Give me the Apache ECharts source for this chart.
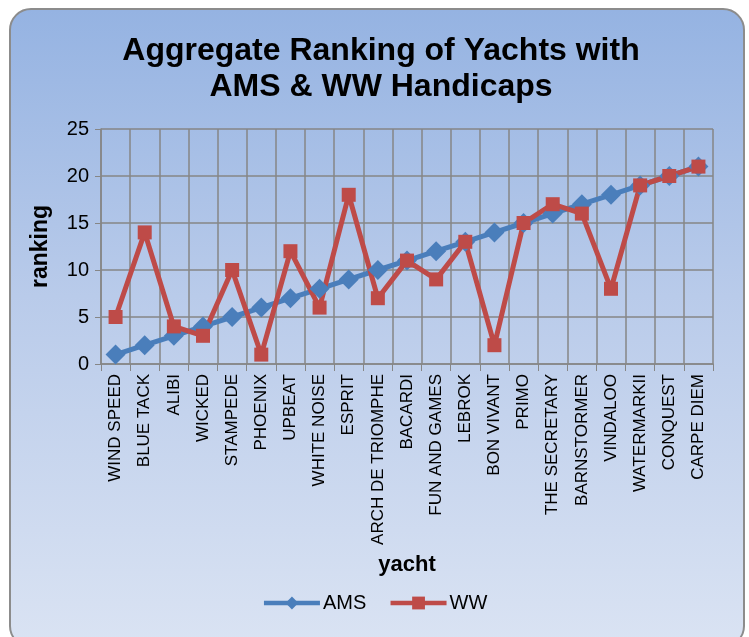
<!DOCTYPE html>
<html>
<head>
<meta charset="utf-8">
<script src="https://cdn.jsdelivr.net/npm/echarts@6/dist/echarts.min.js"></script>
<style>
  html, body { margin: 0; padding: 0; background: #ffffff; }
  #frame {
    position: absolute; left: 9px; top: 8px; width: 736px; height: 640px;
    box-sizing: border-box; border: 2px solid #8c8c8c; border-radius: 22px;
    background: linear-gradient(to bottom, #95b3e2 0%, #b9cbea 45%, #dae3f3 100%);
  }
  #chart { position: absolute; left: 0; top: 0; width: 749px; height: 637px; }
</style>
</head>
<body>
<div id="frame"></div>
<div id="chart"></div>
<script>
const yachts = [
  "WIND SPEED", "BLUE TACK", "ALIBI", "WICKED", "STAMPEDE", "PHOENIX", "UPBEAT",
  "WHITE NOISE", "ESPRIT", "ARCH DE TRIOMPHE", "BACARDI", "FUN AND GAMES", "LEBROK",
  "BON VIVANT", "PRIMO", "THE SECRETARY", "BARNSTORMER", "VINDALOO", "WATERMARKII",
  "CONQUEST", "CARPE DIEM",
];
const amsRanking = [1, 2, 3, 4, 5, 6, 7, 8, 9, 10, 11, 12, 13, 14, 15, 16, 17, 18, 19, 20, 21];
const wwRanking = [5, 14, 4, 3, 10, 1, 12, 6, 18, 7, 11, 9, 13, 2, 15, 17, 16, 8, 19, 20, 21];

const gridColor = "#868686";
const font = "Liberation Sans, Arial, sans-serif";

const chart = echarts.init(document.querySelector("#chart"));
chart.setOption({
  animation: false,
  textStyle: { fontFamily: font },
  title: {
    text: "Aggregate Ranking of Yachts with\nAMS & WW Handicaps",
    left: 376,
    textAlign: "center",
    top: 28,
    textStyle: { fontSize: 32, fontWeight: "bold", color: "#000", lineHeight: 36, fontFamily: font },
  },
  legend: {
    top: 588,
    left: "center",
    itemWidth: 56,
    itemHeight: 16,
    itemGap: 22,
    lineStyle: { width: 4.5 },
    textStyle: { fontSize: 20, color: "#000", fontFamily: font, padding: [0, 0, 0, -2] },
    data: ["AMS", "WW"],
  },
  grid: { left: 101, right: 36, top: 129, bottom: 273 },
  xAxis: {
    type: "category",
    data: yachts,
    name: "yacht",
    nameLocation: "middle",
    nameGap: 190,
    nameTextStyle: { fontSize: 22, fontWeight: "bold", color: "#000" },
    axisLine: { lineStyle: { color: gridColor, width: 1.5 } },
    axisTick: { show: true, length: 7, lineStyle: { color: gridColor } },
    axisLabel: { rotate: 90, fontSize: 17, color: "#000", margin: 10, interval: 0 },
    splitLine: { show: true, lineStyle: { color: gridColor, width: 1.5 } },
  },
  yAxis: {
    type: "value",
    min: 0,
    max: 25,
    interval: 5,
    name: "ranking",
    nameLocation: "middle",
    nameGap: 49,
    nameTextStyle: { fontSize: 23, fontWeight: "bold", color: "#000" },
    axisLine: { show: true, lineStyle: { color: gridColor, width: 1.5 } },
    axisTick: { show: true, length: 6, lineStyle: { color: gridColor } },
    axisLabel: { fontSize: 20, color: "#000", margin: 12 },
    splitLine: { show: true, lineStyle: { color: gridColor, width: 1.5 } },
  },
  series: [
    {
      name: "AMS",
      type: "line",
      data: amsRanking,
      symbol: "diamond",
      symbolSize: 20,
      lineStyle: { color: "#4a7ebb", width: 5 },
      itemStyle: { color: "#4a7ebb" },
    },
    {
      name: "WW",
      type: "line",
      data: wwRanking,
      symbol: "rect",
      symbolSize: 14,
      lineStyle: { color: "#be4b48", width: 5 },
      itemStyle: { color: "#be4b48" },
    },
  ],
});
</script>
</body>
</html>
